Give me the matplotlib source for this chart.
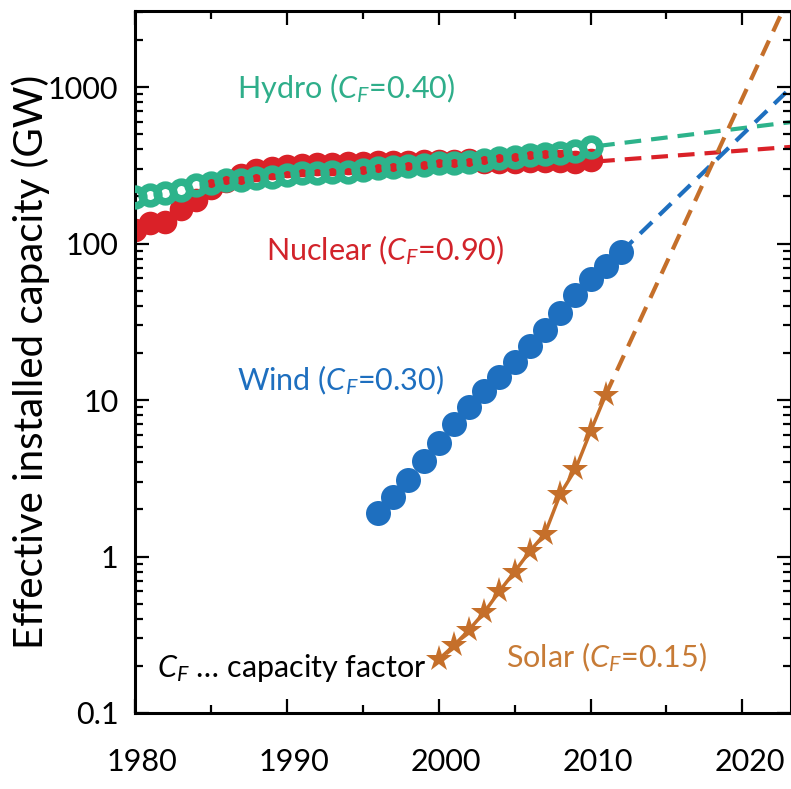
import numpy as np
import matplotlib
matplotlib.use("Agg")
import matplotlib.pyplot as plt
from matplotlib.transforms import ScaledTranslation

plt.rcParams['font.family'] = ['Lato', 'DejaVu Sans']
plt.rcParams['mathtext.fontset'] = 'custom'
plt.rcParams['mathtext.rm'] = 'Lato'
plt.rcParams['mathtext.it'] = 'Lato:italic'

# effective installed capacity (GW)
hydro_years = np.arange(1980, 2011)
hydro = [198, 204, 210, 220, 237, 244, 255, 255, 262, 266, 274, 282, 282, 286, 286, 295,
         304, 308, 313, 318, 327, 327, 332, 342, 352, 357, 368, 373, 379, 390, 414]

nuclear_years = np.arange(1980, 2011)
nuclear = [122, 135, 138, 165, 190, 225, 250, 275, 295, 305, 312, 318, 320, 322, 325, 328,
           330, 332, 333, 335, 337, 338, 340, 330, 332, 334, 335, 336, 335, 333, 340]

wind_years = np.arange(1996, 2013)
wind = [1.9, 2.4, 3.1, 4.1, 5.3, 7.0, 9.0, 11.5, 14.0, 17.5, 22.0, 28.0, 36.0, 47.0, 59.0, 72.0, 88.0]

solar_years = np.arange(2000, 2012)
solar = [0.22, 0.27, 0.34, 0.44, 0.6, 0.8, 1.08, 1.4, 2.5, 3.6, 6.3, 10.8]

# dashed projections
hydro_proj_years = [2010.5, 2024]
hydro_proj = [420, 610]
nuclear_proj_years = [2010.5, 2024]
nuclear_proj = [335, 420]
wind_proj_years = [2012, 2024]
wind_proj = [88, 1180]
solar_proj_years = [2011, 2024]
solar_proj = [10.8, 5900]

c_hydro = '#2DB38B'
c_nuc = '#DA2128'
c_wind = '#1E6FBF'
c_solar = '#C56F2A'

fig = plt.figure(figsize=(7.91, 7.89), dpi=100)
ax = fig.add_axes([135 / 791, 76 / 789, 656 / 791, 702 / 789])

dash = (4, 2.4)
ax.plot(hydro_proj_years, hydro_proj, color=c_hydro, lw=3, dashes=dash, zorder=1)
ax.plot(nuclear_proj_years, nuclear_proj, color=c_nuc, lw=3, dashes=dash, zorder=1)
ax.plot(wind_proj_years, wind_proj, color=c_wind, lw=3, dashes=dash, zorder=1)
ax.plot(solar_proj_years, solar_proj, color=c_solar, lw=3, dashes=dash, zorder=1)

ax.plot(nuclear_years, nuclear, 'o', color=c_nuc, ms=17, mew=0, zorder=2)
ax.plot(hydro_years, hydro, 'o', mfc='none', mec=c_hydro, ms=12, mew=5.5, zorder=3)
ax.plot(wind_years, wind, 'o', color=c_wind, ms=18, mew=0, zorder=3)
ax.plot(solar_years, solar, '-*', color=c_solar, lw=2.5, ms=20, mew=0, zorder=3)

ax.set_yscale('log')
ax.set_xlim(1980, 2023.2)
ax.set_ylim(0.1, 3060)

ax.set_xticks([1980, 1990, 2000, 2010, 2020])
ax.set_xticks([1985, 1995, 2005, 2015], minor=True)
ax.set_yticks([0.1, 1, 10, 100, 1000])
ax.set_yticklabels(['0.1', '1', '10', '100', '1000'])
ax.tick_params(which='both', direction='in', top=True, right=True, width=1.6, labelsize=22)
ax.tick_params(which='major', length=10)
ax.tick_params(which='minor', length=6)
ax.tick_params(axis='x', pad=25)
ax.tick_params(axis='y', pad=12)
for s in ax.spines.values():
    s.set_linewidth(2.2)

# x labels sit a little right of their ticks in the original
shift = ScaledTranslation(0.07, 0, fig.dpi_scale_trans)
for lab in ax.get_xticklabels():
    lab.set_transform(lab.get_transform() + shift)

ax.set_ylabel('Effective installed capacity (GW)', fontsize=29)
ax.yaxis.set_label_coords(-0.129, 0.5)

ax.text(1986.7, 985, 'Hydro ($C_F$=0.40)', color='#2FAE8A', fontsize=22, va='center')
ax.text(1988.6, 91, 'Nuclear ($C_F$=0.90)', color='#D2232A', fontsize=22, va='center')
ax.text(1986.7, 13.4, 'Wind ($C_F$=0.30)', color=c_wind, fontsize=22, va='center')
ax.text(2004.4, 0.228, 'Solar ($C_F$=0.15)', color='#C77B36', fontsize=22, va='center')
ax.text(1981.45, 0.194, '$C_F$ \u2026 capacity factor', color='black', fontsize=22, va='center')

fig.savefig('out.png', dpi=100)
